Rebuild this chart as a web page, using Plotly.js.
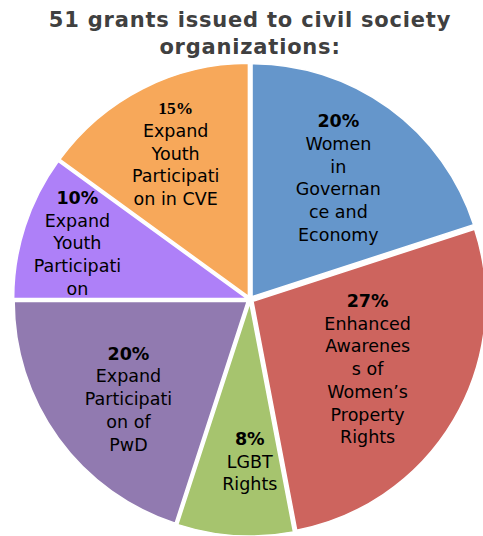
<!DOCTYPE html>
<html>
<head>
<meta charset="utf-8">
<script src="https://cdn.plot.ly/plotly-3.0.1.min.js"></script>
<style>
  html, body { margin: 0; padding: 0; background: #fff; overflow: hidden; }
  #chart { width: 500px; height: 536px; }
</style>
</head>
<body>
<div id="chart"></div>
<script>
const categories = [
  "Women in Governance and Economy",
  "Enhanced Awareness of Women’s Property Rights",
  "LGBT Rights",
  "Expand Participation of PwD",
  "Expand Youth Participation",
  "Expand Youth Participation in CVE"
];
const values = [20, 27, 8, 20, 10, 15];
const percentLabels = ["20%", "27%", "8%", "20%", "10%", "15%"];
const wrappedLabels = [
  ["Women", "in", "Governan", "ce and", "Economy"],
  ["Enhanced", "Awarenes", "s of", "Women’s", "Property", "Rights"],
  ["LGBT", "Rights", "&nbsp;", "&nbsp;"],
  ["&nbsp;", "Expand", "Participati", "on of", "PwD"],
  ["Expand", "Youth", "Participati", "on"],
  ["Expand", "Youth", "Participati", "on in CVE"]
];
const titleLines = ["51 grants issued to civil society", "organizations:"];
const colors = ["#6596CB", "#CD645E", "#A6C46E", "#917AB0", "#AE80F8", "#F7A85A"];

const texts = percentLabels.map((p, i) => {
  const pct = i === 5
    ? '<span style="font-family:\'Liberation Serif\', serif"><b>' + p + '</b></span>'
    : '<b>' + p + '</b>';
  const lines = wrappedLabels[i].slice();
  if (lines[0] === '&nbsp;') { lines.shift(); return '&nbsp;<br>' + pct + '<br>' + lines.join('<br>'); }
  return pct + '<br>' + lines.join('<br>');
});

const trace = {
  type: 'pie',
  labels: categories,
  values: values,
  text: texts,
  textinfo: 'text',
  textposition: 'inside',
  insidetextorientation: 'horizontal',
  sort: false,
  direction: 'clockwise',
  rotation: 0,
  pull: values.map(() => 0.015),
  marker: { colors: colors, line: { color: '#ffffff', width: 1.5 } },
  insidetextfont: { family: 'DejaVu Sans, Verdana, sans-serif', size: 17.5, color: '#000000' },
  hoverinfo: 'none',
  domain: { x: [0.026, 0.974], y: [0, 0.8825] }
};

const layout = {
  width: 500,
  height: 536,
  margin: { l: 0, r: 0, t: 0, b: 0 },
  showlegend: false,
  paper_bgcolor: '#ffffff',
  uniformtext: { minsize: 17.5, mode: 'show' },
  title: {
    text: titleLines.map(l => '<span style="letter-spacing:0.8px"><b>' + l + '</b></span>').join('<br>'),
    font: { family: 'DejaVu Sans, Verdana, sans-serif', size: 21, color: '#404040' },
    x: 0.5, xanchor: 'center',
    xref: 'paper',
    yref: 'container', y: 1 - 27 / 536, yanchor: 'top'
  }
};

Plotly.newPlot('chart', [trace], layout, { displayModeBar: false, staticPlot: true });
</script>
</body>
</html>
